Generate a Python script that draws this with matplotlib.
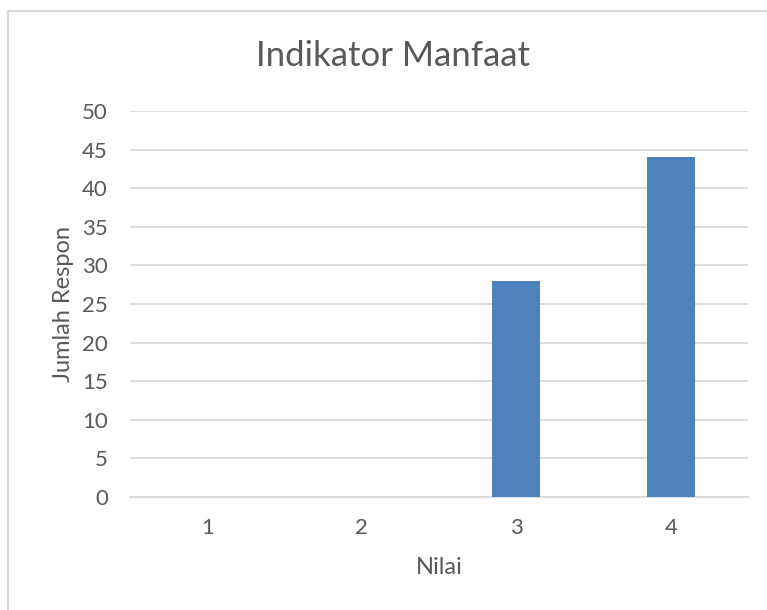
import matplotlib.pyplot as plt
from matplotlib.patches import Rectangle

# data
nilai = ['1', '2', '3', '4']
jumlah_respon = [0, 0, 28, 44]
y_ticks = list(range(0, 51, 5))

TEXT = '#595959'
GRID = '#d9d9d9'
BAR = '#4f81bd'

plt.rcParams['font.family'] = ['Lato', 'DejaVu Sans']

W, H = 767, 610
fig = plt.figure(figsize=(W / 100, H / 100), dpi=100)

# thin outer frame of the chart area
fig.patches.append(Rectangle((8 / W, -0.1), 1.2, 1 - 11 / H + 0.1,
                             transform=fig.transFigure, fill=False,
                             edgecolor=GRID, linewidth=1.5))

ax = fig.add_axes([130 / W, 1 - 497 / H, (748 - 130) / W, (497 - 111) / H])
x = range(1, len(nilai) + 1)
ax.bar(x, jumlah_respon, width=0.31, color=BAR, zorder=3)

ax.set_xlim(0.5, 4.5)
ax.set_ylim(0, 50)
ax.set_yticks(y_ticks)
ax.set_xticks(list(x))
ax.set_xticklabels(nilai)
ax.grid(axis='y', color=GRID, linewidth=1.3, zorder=0)
ax.set_axisbelow(True)
for s in ['top', 'right', 'left']:
    ax.spines[s].set_visible(False)
ax.spines['bottom'].set_color(GRID)
ax.spines['bottom'].set_linewidth(1.3)
ax.tick_params(length=0, labelsize=16, colors=TEXT)
ax.tick_params(axis='y', pad=16)
ax.tick_params(axis='x', pad=15)

ax.set_xlabel('Nilai', fontsize=17, color=TEXT, labelpad=14)
ax.set_ylabel('Jumlah Respon', fontsize=17, color=TEXT, labelpad=6)
fig.text(393 / W, 1 - 56 / H, 'Indikator Manfaat', fontsize=25, color=TEXT,
         ha='center', va='center')

fig.savefig('out.png', dpi=100, facecolor='white')
